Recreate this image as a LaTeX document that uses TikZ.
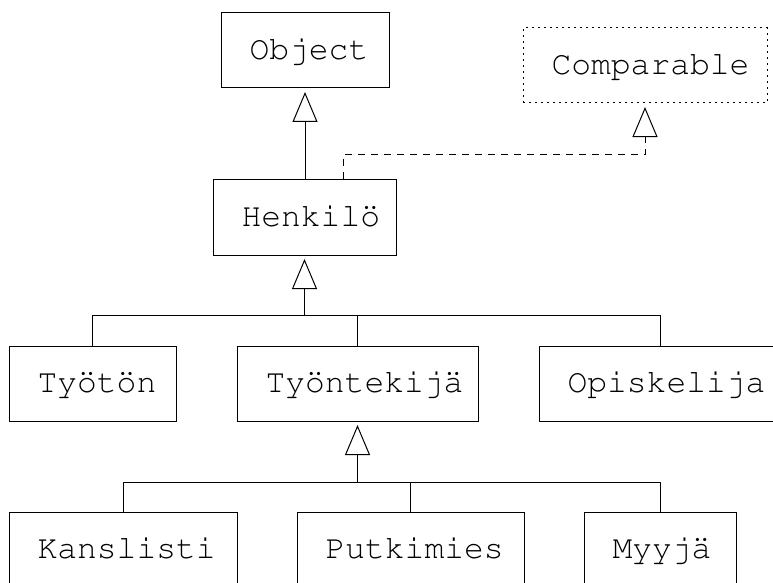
\documentclass[tikz,border=0pt]{standalone}
\usepackage[T1]{fontenc}
\usetikzlibrary{arrows.meta}
% thin Courier for the class names
\newcommand\umlfont{\fontencoding{T1}\fontfamily{pcr}\fontseries{m}\fontshape{n}\fontsize{33}{33}\selectfont}
% class label, left aligned inside a box of fixed inner width
\newcommand\clabel[2]{\makebox[#1][l]{#2}}
\begin{document}
\begin{tikzpicture}[x=1pt, y=-1pt, line width=1pt,
  cls/.style={draw, minimum height=75pt, inner xsep=28.5pt, inner ysep=0pt,
    font=\umlfont, text height=18pt, text depth=0pt},
  iface/.style={cls, dash pattern=on 2pt off 4pt},
  inh/.style={-{Triangle[open, length=30pt, width=25pt, line width=1pt]}, shorten >=3.5pt},
  real/.style={inh, dash pattern=on 7pt off 6pt}]
\useasboundingbox (0,0) rectangle (773,583);

% classes and interface
\node[cls]   (obj)  at (305,50.5)   {\clabel{111pt}{Object}};
\node[iface] (cmp)  at (645,65.5)   {\clabel{187pt}{Comparable}};
\node[cls, minimum height=76pt] (hen) at (304.5,217) {\clabel{126pt}{Henkilö}};
\node[cls]   (tyo)  at (92.5,383.5) {\clabel{110pt}{Työtön}};
\node[cls]   (tnt)  at (357.5,383.5){\clabel{184pt}{Työntekijä}};
\node[cls]   (opi)  at (660,383.5)  {\clabel{185pt}{Opiskelija}};
\node[cls]   (kan)  at (123,549.5)  {\clabel{171pt}{Kanslisti}};
\node[cls]   (put)  at (410.5,549.5){\clabel{170pt}{Putkimies}};
\node[cls]   (myy)  at (660,549.5)  {\clabel{95pt}{Myyjä}};

% Henkilö extends Object
\draw[inh] (hen.north -| obj.south) -- (obj.south);
% Henkilö implements Comparable
\coordinate (hstub) at ([xshift=38.5pt]hen.north);
\draw[real] (hstub) -- ++(0,-24) -| (cmp.south);

% subclasses of Henkilö
\coordinate (bus1) at ([yshift=-60pt]hen.south);
\draw[inh] (bus1) -- (hen.south);
\draw (tyo.north) |- (bus1) -| (opi.north);
\draw (tnt.north) -- (tnt.north |- bus1);

% subclasses of Työntekijä
\coordinate (bus2) at ([yshift=-61pt]tnt.south);
\draw[inh] (bus2) -- (tnt.south);
\draw (kan.north) |- (bus2) -| (myy.north);
\draw (put.north) -- (put.north |- bus2);
\end{tikzpicture}
\end{document}
